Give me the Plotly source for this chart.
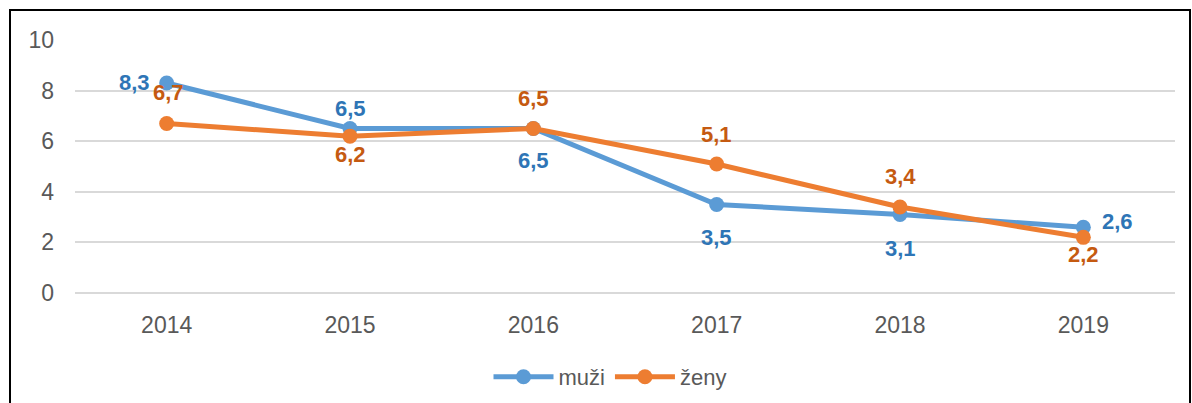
import plotly.graph_objects as go

years = ["2014", "2015", "2016", "2017", "2018", "2019"]
muzi = [8.3, 6.5, 6.5, 3.5, 3.1, 2.6]
zeny = [6.7, 6.2, 6.5, 5.1, 3.4, 2.2]
y_ticks = [0, 2, 4, 6, 8, 10]

# label pixel offsets (style only): (dx, dy) with dy positive = up
muzi_off = [(-32, 1), (0, 20), (0, -32), (0, -33), (0, -34), (34, 6)]
zeny_off = [(2, 31), (0, -18), (0, 30), (0, 29), (0, 30), (0, -17)]

def fmt(v):
    return f"{v:.1f}".replace(".", ",")

FONT = "Liberation Sans, Arial, sans-serif"
BLUE, BLUE_T = "#5B9BD5", "#2E75B6"
ORANGE, ORANGE_T = "#ED7D31", "#C55A11"

fig = go.Figure()
fig.add_trace(go.Scatter(
    x=years, y=muzi, name="muži", mode="lines+markers",
    line=dict(color=BLUE, width=5), marker=dict(color=BLUE, size=15),
))
fig.add_trace(go.Scatter(
    x=years, y=zeny, name="ženy", mode="lines+markers",
    line=dict(color=ORANGE, width=5), marker=dict(color=ORANGE, size=15),
))

annotations = []
for vals, offs, col in ((muzi, muzi_off, BLUE_T), (zeny, zeny_off, ORANGE_T)):
    for i, (v, (dx, dy)) in enumerate(zip(vals, offs)):
        annotations.append(dict(
            x=i, y=v, xref="x", yref="y", text=f"<b>{fmt(v)}</b>", showarrow=False,
            xshift=dx, yshift=dy, xanchor="center", yanchor="middle",
            font=dict(color=col, size=22, family=FONT),
        ))

L, R, T, B = 75, 17, 40, 110
W, H = 1192, 403
pw, ph = W - L - R, H - T - B

fig.update_layout(
    width=W, height=H,
    margin=dict(l=L, r=R, t=T, b=B, autoexpand=False),
    paper_bgcolor="white", plot_bgcolor="white",
    font=dict(family=FONT, size=22, color="#595959"),
    showlegend=True,
    legend=dict(orientation="h", x=(610 - L) / pw, xanchor="center",
                y=-(377 - (H - B)) / ph, yanchor="middle",
                font=dict(size=22, color="#595959"), itemwidth=60),
    xaxis=dict(type="category", range=[-0.5, 5.5], showgrid=False, showline=False,
               automargin=False,
               ticks="", tickfont=dict(size=23, color="#595959"), ticklabelstandoff=16),
    yaxis=dict(range=[0, 10], tickvals=y_ticks, showgrid=True, gridcolor="#D9D9D9",
               automargin=False,
               gridwidth=2, zeroline=True, zerolinecolor="#D9D9D9", zerolinewidth=2,
               ticks="", tickfont=dict(size=23, color="#595959"), ticklabelstandoff=20),
    annotations=annotations,
    shapes=[dict(type="rect", xref="paper", yref="paper",
                 x0=(10 - L) / pw, x1=(1190 - L) / pw,
                 y0=-(415 - (H - B)) / ph, y1=(H - B - 10) / ph,
                 line=dict(color="black", width=2), fillcolor="rgba(0,0,0,0)", layer="below")],
)

fig.write_html("out.html", config={"displayModeBar": False},
               post_script="document.body.style.margin='0';document.body.style.overflow='hidden';")
